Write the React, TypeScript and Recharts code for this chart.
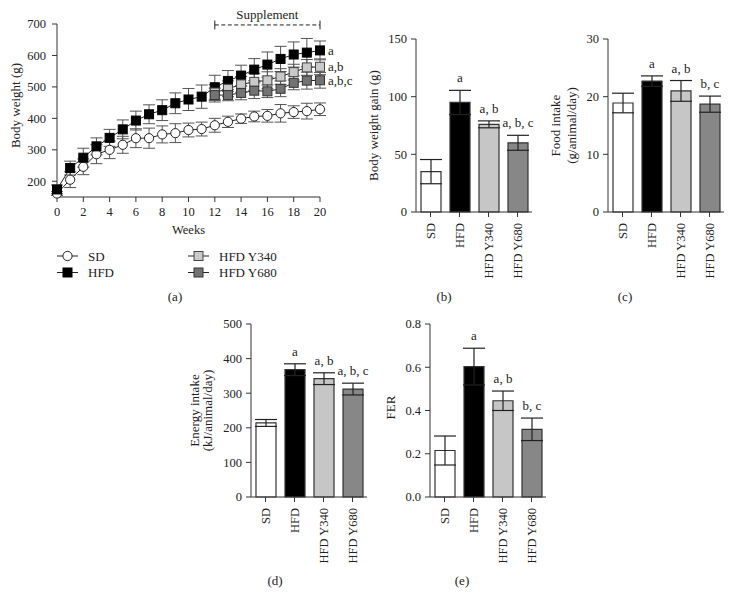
import React from "react";
import {
  LineChart,
  Line,
  BarChart,
  Bar,
  Cell,
  XAxis,
  YAxis,
  ErrorBar,
  LabelList,
  Legend,
  ReferenceLine,
} from "recharts";

// ---- panel (a): body weight over weeks ----
const weeks = [0, 1, 2, 3, 4, 5, 6, 7, 8, 9, 10, 11, 12, 13, 14, 15, 16, 17, 18, 19, 20];
const sdMean = [161, 205, 246, 286, 300, 316, 337, 337, 349, 353, 363, 366, 378, 389, 399, 406, 408, 416, 420, 423, 429];
const sdErr = [6, 25, 25, 30, 28, 27, 30, 32, 27, 30, 22, 22, 22, 18, 15, 17, 20, 28, 20, 25, 20];
const hfdMean = [174, 242, 275, 311, 338, 365, 393, 413, 426, 448, 460, 469, 499, 519, 536, 555, 571, 589, 603, 609, 616];
const hfdErr = [14, 22, 30, 27, 27, 30, 30, 30, 33, 33, 35, 37, 38, 33, 33, 35, 40, 40, 40, 45, 30];

const suppWeeks = [12, 13, 14, 15, 16, 17, 18, 19, 20];
const y340Mean = [482, 494, 508, 516, 521, 533, 547, 562, 564];
const y340Err = [25, 25, 25, 27, 27, 25, 25, 25, 25];
const y680Mean = [474, 474, 481, 488, 486, 494, 513, 520, 521];
const y680Err = [22, 18, 22, 25, 20, 25, 22, 27, 25];

const weekTicks = [0, 2, 4, 6, 8, 10, 12, 14, 16, 18, 20];
const weightTicks = [200, 300, 400, 500, 600, 700];
const supplementSpan = [12, 20];
const supplementLevel = 697;

// ---- panels (b)-(e): group bars ----
const groups = ["SD", "HFD", "HFD Y340", "HFD Y680"];

const gainMean = [35, 95, 76, 60];
const gainErr = [10.5, 10.5, 3, 6.5];
const gainTags = ["", "a", "a, b", "a, b, c"];

const foodMean = [18.9, 22.7, 21.0, 18.7];
const foodErr = [1.7, 0.9, 1.8, 1.4];
const foodTags = ["", "a", "a, b", "b, c"];

const energyMean = [214, 368, 342, 312];
const energyErr = [10, 17, 17, 17];
const energyTags = ["", "a", "a, b", "a, b, c"];

const ferMean = [0.215, 0.603, 0.445, 0.313];
const ferErr = [0.067, 0.085, 0.045, 0.052];
const ferTags = ["", "a", "a, b", "b, c"];

const barFills = ["#ffffff", "#000000", "#c6c6c6", "#878787"];

const weightRows = weeks.map((w, i) => ({
  week: w,
  sd: sdMean[i],
  sdErr: sdErr[i],
  hfd: hfdMean[i],
  hfdErr: hfdErr[i],
}));

const suppRows = suppWeeks.map((w, i) => ({
  week: w,
  y340: y340Mean[i],
  y340Err: y340Err[i],
  y680: y680Mean[i],
  y680Err: y680Err[i],
}));

const INK = "#222";
const AXIS = "#333";
const SERIF = '"Liberation Serif", "Times New Roman", "DejaVu Serif", serif';

const markerOf: Record<string, { shape: string; fill: string; stroke: string }> = {
  sd: { shape: "circle", fill: "#ffffff", stroke: "#222" },
  hfd: { shape: "square", fill: "#000000", stroke: "#000" },
  y340: { shape: "square", fill: "#c9c9c9", stroke: "#444" },
  y680: { shape: "square", fill: "#737373", stroke: "#333" },
};
const legendOrder = ["sd", "hfd", "y340", "y680"];

const Marker = ({ cx, cy, k }: { cx: number; cy: number; k: string }) => {
  const m = markerOf[k];
  if (cx == null || cy == null) return <g />;
  if (m.shape === "circle")
    return <circle cx={cx} cy={cy} r={4.6} fill={m.fill} stroke={m.stroke} strokeWidth={1} />;
  return <rect x={cx - 4.5} y={cy - 4.5} width={9} height={9} fill={m.fill} stroke={m.stroke} strokeWidth={1} />;
};

const dotFor = (k: string) => (p: any) => <Marker key={`${k}-${p.index}`} cx={p.cx} cy={p.cy} k={k} />;

const endLabel = (text: string, last: number) => (props: any) => {
  if (props.index !== last) return null;
  const vb = props.viewBox ?? props;
  return (
    <text x={vb.x + 8} y={vb.y} dy="0.35em" fontSize={13} fill={INK}>
      {text}
    </text>
  );
};

const WeightLegend = (props: any) => {
  const items: any[] = props.payload ?? [];
  const ordered = legendOrder
    .map((k) => items.find((it) => String(it.dataKey) === k))
    .filter(Boolean);
  return (
    <svg width={360} height={36}>
      {ordered.map((it: any, i: number) => {
        const col = i < 2 ? 0 : 1;
        const row = i % 2;
        const x0 = col ? 188 : 57;
        const cy = 10 + row * 16.5;
        const key = String(it.dataKey);
        return (
          <g key={key}>
            <line x1={x0} x2={x0 + 21} y1={cy} y2={cy} stroke={INK} strokeWidth={1} />
            <Marker cx={x0 + 10.5} cy={cy} k={key} />
            <text x={x0 + 31} y={cy} dy="0.35em" fontSize={13} fill={INK}>
              {it.value}
            </text>
          </g>
        );
      })}
    </svg>
  );
};

const yTitle = (lines: string[], xs: number[], shift = 0) => (props: any) => {
  const vb = props.viewBox ?? { x: 0, y: 0, width: 0, height: 0 };
  const cy = vb.y + vb.height / 2 + shift;
  return (
    <g>
      {lines.map((t, i) => {
        const x = vb.x + xs[i];
        return (
          <text
            key={t}
            x={x}
            y={cy}
            transform={`rotate(-90 ${x} ${cy})`}
            textAnchor="middle"
            dy="0.35em"
            fontSize={13}
            fill={INK}
          >
            {t}
          </text>
        );
      })}
    </g>
  );
};

const weeksTitle = (props: any) => {
  const vb = props.viewBox ?? { x: 0, y: 0, width: 0, height: 0 };
  return (
    <text x={vb.x + vb.width / 2} y={vb.y + 33} dy="0.35em" textAnchor="middle" fontSize={12.5} fill={INK}>
      Weeks
    </text>
  );
};

const CatTick = (props: any) => {
  const { x, y, payload } = props;
  return (
    <text
      x={x}
      y={y}
      transform={`rotate(-90 ${x} ${y})`}
      textAnchor="end"
      dy="0.35em"
      fontSize={12.5}
      fill={INK}
    >
      {payload.value}
    </text>
  );
};

const tagLabel = (means: number[], errs: number[]) => (props: any) => {
  const { index, value } = props;
  if (!value) return null;
  const vb = props.viewBox ?? props;
  const pxPerUnit = vb.height / means[index];
  const top = vb.y - errs[index] * pxPerUnit;
  return (
    <text x={vb.x + vb.width / 2} y={top - 12.5} dy="0.35em" textAnchor="middle" fontSize={13} fill={INK}>
      {value}
    </text>
  );
};

const tickStyle = { fontSize: 12.5, fill: INK };

const WeightPanel = () => (
  <LineChart width={360} height={310} data={weightRows} margin={{ top: 24, right: 40, left: 0, bottom: 65 }}>
    <XAxis
      dataKey="week"
      type="number"
      domain={[0, 20]}
      ticks={weekTicks}
      tickSize={5}
      tickMargin={5}
      height={48}
      stroke={AXIS}
      tick={tickStyle}
      label={weeksTitle}
    />
    <YAxis
      type="number"
      domain={[150, 700]}
      ticks={weightTicks}
      width={57}
      tickSize={5}
      tickMargin={6}
      stroke={AXIS}
      tick={tickStyle}
      label={yTitle(["Body weight (g)"], [15], -5)}
    />
    <ReferenceLine
      segment={[
        { x: supplementSpan[0], y: supplementLevel },
        { x: supplementSpan[1], y: supplementLevel },
      ]}
      stroke={INK}
      strokeDasharray="4 2.5"
      ifOverflow="visible"
      label={{ value: "Supplement", position: "top", offset: 6, fill: INK, fontSize: 13 }}
    />
    <ReferenceLine
      segment={[
        { x: supplementSpan[0], y: supplementLevel + 14 },
        { x: supplementSpan[0], y: supplementLevel - 14 },
      ]}
      stroke={INK}
      ifOverflow="visible"
    />
    <ReferenceLine
      segment={[
        { x: supplementSpan[1], y: supplementLevel + 14 },
        { x: supplementSpan[1], y: supplementLevel - 14 },
      ]}
      stroke={INK}
      ifOverflow="visible"
    />
    <Line dataKey="sd" name="SD" stroke={INK} strokeWidth={1} dot={dotFor("sd")} isAnimationActive={false}>
      <ErrorBar dataKey="sdErr" width={6} stroke="#555" strokeWidth={1} />
    </Line>
    <Line dataKey="hfd" name="HFD" stroke={INK} strokeWidth={1} dot={dotFor("hfd")} isAnimationActive={false}>
      <ErrorBar dataKey="hfdErr" width={6} stroke="#555" strokeWidth={1} />
      <LabelList dataKey="hfd" content={endLabel("a", weeks.length - 1)} />
    </Line>
    <Line
      data={suppRows}
      dataKey="y340"
      name="HFD Y340"
      stroke={INK}
      strokeWidth={1}
      dot={dotFor("y340")}
      isAnimationActive={false}
    >
      <ErrorBar dataKey="y340Err" width={6} stroke="#555" strokeWidth={1} />
      <LabelList dataKey="y340" content={endLabel("a,b", suppWeeks.length - 1)} />
    </Line>
    <Line
      data={suppRows}
      dataKey="y680"
      name="HFD Y680"
      stroke={INK}
      strokeWidth={1}
      dot={dotFor("y680")}
      isAnimationActive={false}
    >
      <ErrorBar dataKey="y680Err" width={6} stroke="#555" strokeWidth={1} />
      <LabelList dataKey="y680" content={endLabel("a,b,c", suppWeeks.length - 1)} />
    </Line>
    <Legend
      layout="horizontal"
      verticalAlign="middle"
      align="center"
      content={WeightLegend}
      wrapperStyle={{ top: 246, left: 0, width: 360, height: 36 }}
    />
  </LineChart>
);

interface BarPanelProps {
  width: number;
  height: number;
  top: number;
  yWidth: number;
  domain: [number, number];
  ticks: number[];
  fmt?: (v: number) => string;
  means: number[];
  errs: number[];
  tags: string[];
  title: string[];
  titleXs: number[];
  titleShift?: number;
}

const BarPanel = ({ width, height, top, yWidth, domain, ticks, fmt, means, errs, tags, title, titleXs, titleShift = 0 }: BarPanelProps) => {
  const rows = groups.map((g, i) => ({ group: g, mean: means[i], err: errs[i], tag: tags[i] }));
  return (
    <BarChart width={width} height={height} data={rows} margin={{ top, right: width - yWidth - 116, left: 0, bottom: 0 }}>
      <XAxis
        dataKey="group"
        tick={<CatTick />}
        interval={0}
        tickSize={5}
        tickMargin={6}
        height={93}
        stroke={AXIS}
      />
      <YAxis
        type="number"
        domain={domain}
        ticks={ticks}
        tickFormatter={fmt}
        width={yWidth}
        tickSize={5}
        tickMargin={4}
        stroke={AXIS}
        tick={tickStyle}
        label={yTitle(title, titleXs, titleShift)}
      />
      <Bar dataKey="mean" barSize={20} stroke="#333" strokeWidth={1.2} isAnimationActive={false}>
        {rows.map((r, i) => (
          <Cell key={r.group} fill={barFills[i]} />
        ))}
        <ErrorBar dataKey="err" width={11} stroke={INK} strokeWidth={1.2} />
        <LabelList dataKey="tag" content={tagLabel(means, errs)} />
      </Bar>
    </BarChart>
  );
};

const Caption = ({ x, y, text }: { x: number; y: number; text: string }) => (
  <div
    style={{
      position: "absolute",
      left: x - 20,
      top: y - 8,
      width: 40,
      textAlign: "center",
      fontSize: 13,
      lineHeight: "16px",
      color: INK,
    }}
  >
    {text}
  </div>
);

export default function App() {
  return (
    <div
      style={{
        position: "absolute",
        left: 0,
        top: 0,
        width: 734,
        height: 609,
        background: "#fff",
        fontFamily: SERIF,
        overflow: "hidden",
      }}
    >
      <div style={{ position: "absolute", left: 0, top: 0 }}>
        <WeightPanel />
      </div>
      <div style={{ position: "absolute", left: 360, top: 0 }}>
        <BarPanel
          width={180}
          height={305}
          top={39}
          yWidth={56}
          domain={[0, 150]}
          ticks={[0, 50, 100, 150]}
          means={gainMean}
          errs={gainErr}
          tags={gainTags}
          title={["Body weight gain (g)"]}
          titleXs={[13]}
        />
      </div>
      <div style={{ position: "absolute", left: 540, top: 0 }}>
        <BarPanel
          width={193}
          height={305}
          top={39}
          yWidth={68}
          domain={[0, 30]}
          ticks={[0, 10, 20, 30]}
          means={foodMean}
          errs={foodErr}
          tags={foodTags}
          title={["Food intake", "(g/animal/day)"]}
          titleXs={[15, 31]}
        />
      </div>
      <div style={{ position: "absolute", left: 180, top: 300 }}>
        <BarPanel
          width={195}
          height={290}
          top={24}
          yWidth={71}
          domain={[0, 500]}
          ticks={[0, 100, 200, 300, 400, 500]}
          means={energyMean}
          errs={energyErr}
          tags={energyTags}
          title={["Energy intake", "(kJ/animal/day)"]}
          titleXs={[14, 27]}
        />
      </div>
      <div style={{ position: "absolute", left: 376, top: 300 }}>
        <BarPanel
          width={178}
          height={290}
          top={24}
          yWidth={54}
          domain={[0, 0.8]}
          ticks={[0, 0.2, 0.4, 0.6, 0.8]}
          fmt={(v) => v.toFixed(1)}
          means={ferMean}
          errs={ferErr}
          tags={ferTags}
          title={["FER"]}
          titleXs={[14]}
          titleShift={-3}
        />
      </div>
      <Caption x={175} y={297} text="(a)" />
      <Caption x={444} y={297} text="(b)" />
      <Caption x={625} y={297} text="(c)" />
      <Caption x={275} y={581} text="(d)" />
      <Caption x={462} y={581} text="(e)" />
    </div>
  );
}
